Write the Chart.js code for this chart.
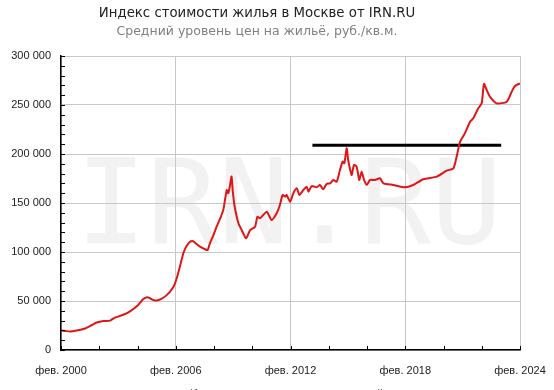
<!DOCTYPE html>
<html>
<head>
<meta charset="utf-8">
<script src="https://cdn.jsdelivr.net/npm/chart.js@4.4.1/dist/chart.umd.min.js"></script>
<style>
  html, body { margin: 0; padding: 0; background: #fff; }
  #chart { display: block; }
</style>
</head>
<body>
<canvas id="chart" width="554" height="390"></canvas>
<script>
// Индекс стоимости жилья, руб./кв.м.
const years = [
  2000.08, 2000.3, 2000.55, 2000.9, 2001.34, 2001.7, 2001.95, 2002.3, 2002.65, 2002.9,
  2003.34, 2003.69, 2004.12, 2004.39, 2004.6, 2004.8, 2005.0, 2005.26, 2005.61, 2005.95,
  2006.13, 2006.3, 2006.48, 2006.65, 2006.83, 2007.0, 2007.09, 2007.35, 2007.6, 2007.75,
  2007.87, 2008.05, 2008.22, 2008.4, 2008.57, 2008.75, 2008.83, 2008.92, 2009.0, 2009.06,
  2009.15, 2009.36, 2009.53, 2009.76, 2009.97, 2010.23, 2010.35, 2010.49, 2010.66, 2010.84,
  2011.1, 2011.36, 2011.53, 2011.67, 2011.8, 2011.88, 2012.06, 2012.23, 2012.41, 2012.55,
  2012.76, 2012.93, 2013.02, 2013.19, 2013.45, 2013.62, 2013.8, 2013.97, 2014.15, 2014.32,
  2014.5, 2014.67, 2014.81, 2014.9, 2015.02, 2015.1, 2015.28, 2015.4, 2015.54, 2015.68,
  2015.8, 2015.93, 2016.07, 2016.24, 2016.5, 2016.76, 2016.94, 2017.46, 2018.07, 2018.5,
  2019.03, 2019.73, 2020.25, 2020.6, 2020.77, 2020.95, 2021.2, 2021.47, 2021.64, 2021.9,
  2022.08, 2022.2, 2022.34, 2022.51, 2022.86, 2023.39, 2023.65, 2023.82, 2024.08
];
const prices = [
  20000, 19500, 18800, 19800, 22000, 25500, 28000, 29500, 30000, 33000,
  36000, 39500, 46000, 52000, 53800, 52000, 50500, 51500, 56000, 64000,
  73000, 85000, 98700, 106000, 110500, 111000, 109500, 105400, 103000, 102000,
  108900, 117000, 125800, 134000, 143000, 163300, 160000, 168000, 177000, 163000,
  148000, 129300, 122400, 114000, 122400, 125800, 136000, 134400, 137800, 141100,
  132700, 139500, 148000, 158200, 156400, 158200, 151300, 159900, 165000, 158200,
  163300, 166700, 161600, 167300, 166000, 168400, 164000, 169400, 170100, 173500,
  171800, 183700, 192200, 190500, 205800, 193900, 178600, 188800, 187100, 173500,
  182000, 173500, 168400, 173500, 173500, 175200, 170100, 168400, 166000, 168400,
  174200, 176900, 183000, 185400, 197200, 212500, 221100, 233000, 236400, 246600,
  251700, 271500, 265300, 258500, 251700, 253400, 263600, 269400, 272000
];

// горизонтальная черта (уровень пика 2015 г.)
const markYears = [2013.23, 2023.1];
const markValues = [209000, 209000];

const xTickYears = [2000, 2006, 2012, 2018, 2024];
const xTickLabels = ["фев. 2000", "фев. 2006", "фев. 2012", "фев. 2018", "фев. 2024"];
const yTickValues = [0, 50000, 100000, 150000, 200000, 250000, 300000];
const yTickLabels = ["0", "50 000", "100 000", "150 000", "200 000", "250 000", "300 000"];

const FEB = 1 / 12;

const decor = {
  id: "decor",
  beforeDraw(chart) {
    const ctx = chart.ctx;
    ctx.save();
    ctx.font = '118px "DejaVu Sans Mono"';
    ctx.fillStyle = "#f2f2f2";
    ctx.textAlign = "center";
    ctx.textBaseline = "alphabetic";
    ctx.fillText("IRN.RU", 289, 243);
    ctx.restore();
  },
  afterDraw(chart) {
    const ctx = chart.ctx;
    const { x, y } = chart.scales;
    const area = chart.chartArea;
    ctx.save();
    // мелкие засечки внутрь области графика
    ctx.strokeStyle = "#000";
    ctx.lineWidth = 1;
    ctx.beginPath();
    for (let yr = 2000; yr <= 2024; yr += 2) {
      const px = Math.round(x.getPixelForValue(yr + FEB)) + 0.5;
      ctx.moveTo(px, area.bottom);
      ctx.lineTo(px, area.bottom - 4);
    }
    for (let v = 0; v <= 300000; v += 10000) {
      const py = Math.round(y.getPixelForValue(v)) + 0.5;
      ctx.moveTo(area.left, py);
      ctx.lineTo(area.left + 4, py);
    }
    ctx.stroke();

    ctx.textAlign = "center";
    ctx.textBaseline = "alphabetic";
    ctx.fillStyle = "#222";
    ctx.font = '13.3px "DejaVu Sans"';
    ctx.fillText("Индекс стоимости жилья в Москве от IRN.RU", 257, 17);
    ctx.fillStyle = "#808080";
    ctx.font = '12.5px "DejaVu Sans"';
    ctx.fillText("Средний уровень цен на жильё, руб./кв.м.", 257, 35);
    ctx.fillStyle = "#444";
    ctx.font = '11px "Liberation Sans"';
    ctx.textAlign = "left";
    ctx.fillText("Индексы рынка недвижимости, ценой", 190, 396.5);
    ctx.restore();
  }
};

new Chart(document.getElementById("chart").getContext("2d"), {
  type: "line",
  data: {
    datasets: [
      {
        data: years.map((v, i) => ({ x: v, y: prices[i] })),
        borderColor: "#e01515",
        borderWidth: 2,
        pointRadius: 0,
        tension: 0.2
      },
      {
        data: markYears.map((v, i) => ({ x: v, y: markValues[i] })),
        borderColor: "#000",
        borderWidth: 3,
        pointRadius: 0
      }
    ]
  },
  options: {
    responsive: false,
    animation: false,
    layout: { padding: { top: 56, right: 34, left: 0, bottom: 0 } },
    plugins: { legend: { display: false }, tooltip: { enabled: false } },
    scales: {
      x: {
        type: "linear",
        min: 2000 + FEB,
        max: 2024 + FEB,
        afterBuildTicks: (s) => { s.ticks = xTickYears.map((v) => ({ value: v + FEB })); },
        afterFit: (s) => { s.height = 40; s.paddingLeft = 0; s.paddingRight = 0; },
        ticks: {
          callback: (v, i) => xTickLabels[i],
          font: { family: "Liberation Sans", size: 11 },
          color: "#222",
          padding: 14,
          maxRotation: 0,
          autoSkip: false
        },
        grid: { color: "#c8c8c8", drawTicks: false },
        border: { color: "#000", width: 1.5 }
      },
      y: {
        min: 0,
        max: 300000,
        afterBuildTicks: (s) => { s.ticks = yTickValues.map((v) => ({ value: v })); },
        afterFit: (s) => { s.width = 61; s.paddingTop = 0; s.paddingBottom = 0; },
        ticks: {
          callback: (v, i) => yTickLabels[i],
          font: { family: "Liberation Sans", size: 11 },
          color: "#222",
          padding: 10
        },
        grid: { color: "#c8c8c8", drawTicks: false },
        border: { color: "#000", width: 1.5 }
      }
    }
  },
  plugins: [decor]
});
</script>
</body>
</html>
